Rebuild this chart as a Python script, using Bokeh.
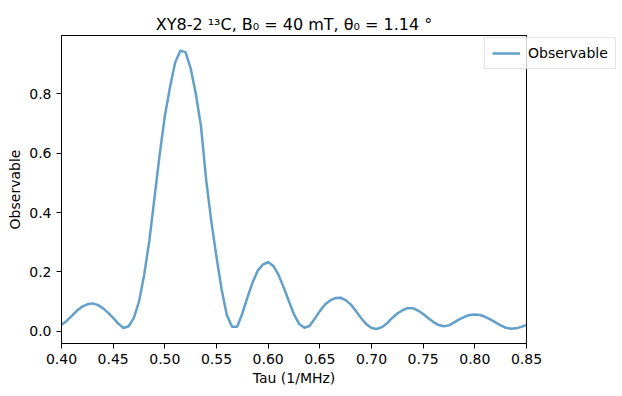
from bokeh.plotting import figure
from bokeh.models import Range1d, FixedTicker, Legend, LegendItem, CustomJSTickFormatter
from bokeh.embed import file_html
from bokeh.resources import INLINE

tau = [0.400, 0.405, 0.410, 0.415, 0.420, 0.425, 0.430, 0.435, 0.440, 0.445,
       0.450, 0.455, 0.460, 0.465, 0.470, 0.475, 0.480, 0.485, 0.490, 0.495,
       0.500, 0.505, 0.510, 0.515, 0.520, 0.525, 0.530, 0.535, 0.540, 0.545,
       0.550, 0.555, 0.560, 0.565, 0.570, 0.575, 0.580, 0.585, 0.590, 0.595,
       0.600, 0.605, 0.610, 0.615, 0.620, 0.625, 0.630, 0.635, 0.640, 0.645,
       0.650, 0.655, 0.660, 0.665, 0.670, 0.675, 0.680, 0.685, 0.690, 0.695,
       0.700, 0.705, 0.710, 0.715, 0.720, 0.725, 0.730, 0.735, 0.740, 0.745,
       0.750, 0.755, 0.760, 0.765, 0.770, 0.775, 0.780, 0.785, 0.790, 0.795,
       0.800, 0.805, 0.810, 0.815, 0.820, 0.825, 0.830, 0.835, 0.840, 0.845,
       0.850]
observable = [0.022, 0.035, 0.052, 0.070, 0.083, 0.091, 0.094, 0.089, 0.078, 0.063,
              0.045, 0.026, 0.011, 0.017, 0.045, 0.100, 0.190, 0.305, 0.450, 0.595,
              0.725, 0.822, 0.905, 0.945, 0.940, 0.885, 0.800, 0.690, 0.510, 0.370,
              0.250, 0.140, 0.055, 0.015, 0.015, 0.060, 0.115, 0.165, 0.205, 0.225,
              0.233, 0.220, 0.190, 0.148, 0.102, 0.057, 0.025, 0.012, 0.018, 0.042,
              0.068, 0.090, 0.104, 0.112, 0.113, 0.105, 0.090, 0.068, 0.044, 0.024,
              0.011, 0.008, 0.014, 0.027, 0.045, 0.060, 0.071, 0.078, 0.078, 0.070,
              0.058, 0.044, 0.031, 0.021, 0.017, 0.020, 0.030, 0.040, 0.049, 0.055,
              0.057, 0.055, 0.049, 0.040, 0.030, 0.020, 0.012, 0.009, 0.010, 0.015,
              0.022]

x_ticks = [0.40, 0.45, 0.50, 0.55, 0.60, 0.65, 0.70, 0.75, 0.80, 0.85]
y_ticks = [0.0, 0.2, 0.4, 0.6, 0.8]

FONT = "DejaVu Sans"

p = figure(output_backend="svg", toolbar_location=None,
           frame_width=465, frame_height=308,
           min_border_left=61, min_border_right=80,
           min_border_top=35, min_border_bottom=51,
           x_range=Range1d(0.40, 0.85), y_range=Range1d(-0.041, 0.996),
           title="XY8-2 \u00b9\u00b3C, B\u2080 = 40 mT, \u03b8\u2080 = 1.14 \u00b0")

p.title.align = "center"
p.title.text_font = FONT
p.title.text_font_size = "16px"
p.title.text_font_style = "normal"
p.title.text_color = "black"
p.title.standoff = 4

p.grid.visible = False
p.outline_line_color = "black"
p.outline_line_width = 1
p.background_fill_color = "white"
p.border_fill_color = "white"

for ax in (p.xaxis[0], p.yaxis[0]):
    ax.axis_line_color = "black"
    ax.major_tick_line_color = "black"
    ax.major_tick_out = 5
    ax.major_tick_in = 0
    ax.minor_tick_line_color = None
    ax.major_label_text_font = FONT
    ax.major_label_text_font_size = "14px"
    ax.major_label_text_color = "black"
    ax.axis_label_text_font = FONT
    ax.axis_label_text_font_size = "14px"
    ax.axis_label_text_font_style = "normal"
    ax.axis_label_text_color = "black"
    ax.major_label_standoff = 5

p.xaxis[0].axis_label_standoff = 3
p.yaxis[0].axis_label_standoff = 3

p.xaxis[0].ticker = FixedTicker(ticks=x_ticks)
p.yaxis[0].ticker = FixedTicker(ticks=y_ticks)
p.xaxis[0].formatter = CustomJSTickFormatter(code="return tick.toFixed(2);")
p.yaxis[0].formatter = CustomJSTickFormatter(code="return tick.toFixed(1);")
p.xaxis[0].axis_label = "Tau (1/MHz)"
p.yaxis[0].axis_label = "Observable"

r = p.line(tau, observable, line_color="#1f77b4", line_alpha=0.7, line_width=2.5)

legend = Legend(items=[LegendItem(label="Observable", renderers=[r])],
                location=(-42, 274))
legend.label_text_font = FONT
legend.label_text_font_size = "14px"
legend.label_text_color = "black"
legend.glyph_width = 28
legend.glyph_height = 14
legend.label_standoff = 8
legend.padding = 7
legend.margin = -40
legend.spacing = 0
legend.border_line_color = "#cccccc"
legend.border_line_width = 1
legend.background_fill_color = "white"
legend.background_fill_alpha = 0.8
p.add_layout(legend, "right")

open("out.html", "w").write(file_html(p, INLINE))
